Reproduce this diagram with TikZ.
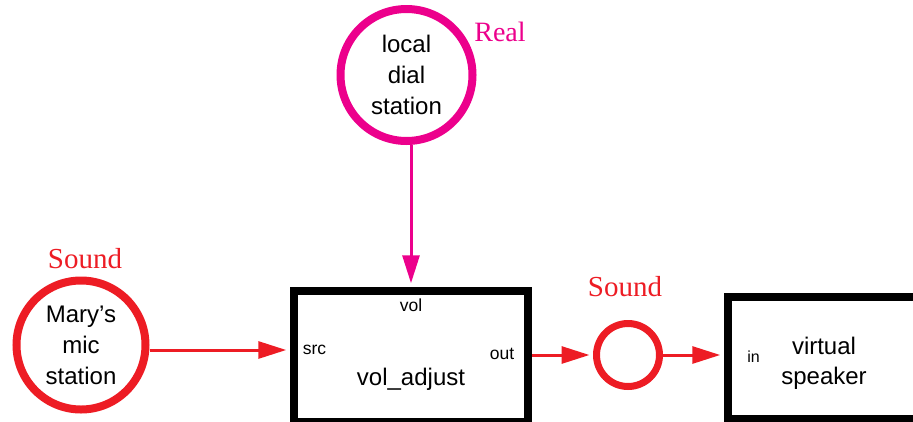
\documentclass[tikz,border=0pt]{standalone}
\usepackage{fontspec}
\setmainfont{Liberation Serif}
\setsansfont{Liberation Sans}
\usepackage{tikz}
\usetikzlibrary{arrows.meta, positioning}

\definecolor{sndred}{HTML}{ED1C24}
\definecolor{realmag}{HTML}{EC008C}

\begin{document}
\begin{tikzpicture}[
      x=1pt, y=-1pt,
      station/.style={circle, draw, line width=8pt, inner sep=0pt,
                      align=center, font=\sffamily\fontsize{24}{31}\selectfont},
      block/.style={draw, line width=7.5pt, inner sep=0pt},
      port/.style={font=\sffamily\fontsize{17.5}{20}\selectfont},
      blockname/.style={align=center, font=\sffamily\fontsize{24}{30}\selectfont},
      sndlabel/.style={text=sndred, font=\rmfamily\fontsize{29}{34}\selectfont},
      reallabel/.style={text=realmag, font=\rmfamily\fontsize{28}{33}\selectfont},
      conn/.style={->, line width=3pt},
      >={Triangle[length=28pt, width=17pt]}
    ]

    \clip (0,0) rectangle (913,421);

    % stations
    \node[station, draw=realmag, minimum size=132pt,
          label={[reallabel, label distance=1pt]25:Real}] (dial) at (406.5,75)
          {local\\dial\\station};
    \node[station, draw=sndred, minimum size=129pt,
          label={[sndlabel, label distance=4pt, xshift=4pt]above:Sound}] (mary) at (81,345)
          {Mary's\\mic\\station};
    \node[circle, draw=sndred, line width=7pt, minimum size=63pt, inner sep=0pt,
          label={[sndlabel, label distance=20pt, xshift=-3pt]above:Sound}] (sig) at (628,355) {};

    % blocks
    \node[block, minimum width=234pt, minimum height=131pt] (adj) at (411,356.5) {};
    \node[block, minimum width=192pt, minimum height=122pt] (spk) at (824,358) {};

    \node[port, below=8pt of adj.north] (vol) {vol};
    \node[port, anchor=west] (src) at ([xshift=9pt, yshift=6.5pt]adj.west) {src};
    \node[port, anchor=east] (out) at ([xshift=-14pt, yshift=3pt]adj.east) {out};
    \node[blockname] (adjname) at ([yshift=-22.5pt]adj.center) {vol\_adjust};

    \node[port, font=\sffamily\fontsize{16}{19}\selectfont, anchor=west] (in)
          at ([xshift=19.5pt, yshift=1pt]spk.west) {in};
    \node[blockname] (spkname) at ([yshift=-5pt]spk.center) {virtual\\speaker};

    % connections
    \draw[conn, realmag, shorten >=4pt] (dial.south -| vol) -- (adj.north -| vol);
    \draw[conn, sndred, shorten >=4pt] (mary.east |- src) -- (adj.west |- src);
    \draw[conn, sndred, shorten >=3.5pt] (adj.east |- sig) -- (sig.west);
    \draw[conn, sndred, shorten >=4pt] (sig.east) -- (spk.west |- sig);
  \end{tikzpicture}
\end{document}
